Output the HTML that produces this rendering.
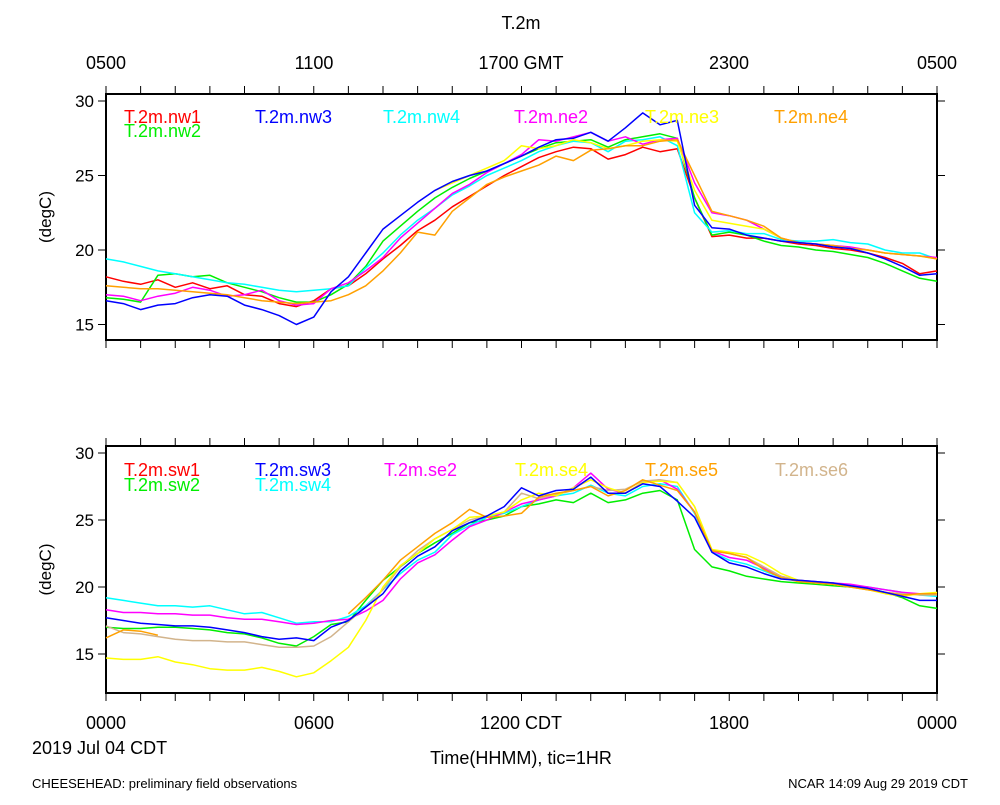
<!DOCTYPE html>
<html><head><meta charset="utf-8"><style>
body{margin:0;background:#fff}
svg text{font-family:"Liberation Sans",sans-serif;fill:#000}
</style></head><body>
<svg id="chart" width="1000" height="800" viewBox="0 0 1000 800" xmlns="http://www.w3.org/2000/svg">
<rect width="1000" height="800" fill="#fff"/>
<text x="521" y="29" font-size="18" text-anchor="middle">T.2m</text>
<text x="106" y="69" font-size="18" text-anchor="middle">0500</text>
<text x="314" y="69" font-size="18" text-anchor="middle">1100</text>
<text x="521" y="69" font-size="18" text-anchor="middle">1700 GMT</text>
<text x="729" y="69" font-size="18" text-anchor="middle">2300</text>
<text x="937" y="69" font-size="18" text-anchor="middle">0500</text>
<text x="106" y="729" font-size="18" text-anchor="middle">0000</text>
<text x="314" y="729" font-size="18" text-anchor="middle">0600</text>
<text x="521" y="729" font-size="18" text-anchor="middle">1200 CDT</text>
<text x="729" y="729" font-size="18" text-anchor="middle">1800</text>
<text x="937" y="729" font-size="18" text-anchor="middle">0000</text>
<text x="32" y="754" font-size="18">2019 Jul 04 CDT</text>
<text x="521" y="764" font-size="18" text-anchor="middle">Time(HHMM), tic=1HR</text>
<text x="32" y="788" font-size="13">CHEESEHEAD: preliminary field observations</text>
<text x="968" y="788" font-size="13" text-anchor="end">NCAR 14:09 Aug 29 2019 CDT</text>
</svg>
<script>
const hours=[0,.5,1,1.5,2,2.5,3,3.5,4,4.5,5,5.5,6,6.5,7,7.5,8,8.5,9,9.5,10,10.5,11,11.5,12,12.5,13,13.5,14,14.5,15,15.5,16,16.5,17,17.5,18,18.5,19,19.5,20,20.5,21,21.5,22,22.5,23,23.5,24];
const yTicks=[15,20,25,30];
const nw1=[18.2,17.9,17.7,18.0,17.5,17.8,17.4,17.6,17.0,16.9,16.4,16.2,16.6,17.4,17.6,18.4,19.4,20.3,21.3,22.0,22.9,23.6,24.3,25.0,25.6,26.2,26.6,26.9,26.8,26.1,26.4,26.9,26.6,26.8,23.5,20.9,21.0,20.8,20.8,20.6,20.4,20.3,20.1,20.0,19.8,19.5,19.1,18.4,18.6];
const nw2=[16.8,16.7,16.5,18.3,18.4,18.2,18.3,17.8,17.5,17.2,16.8,16.5,16.5,17.0,17.7,18.9,20.6,21.6,22.6,23.5,24.2,24.8,25.3,25.8,26.3,26.8,27.2,27.3,27.4,26.9,27.4,27.6,27.8,27.5,23.5,21.0,21.2,21.0,20.6,20.3,20.2,20.0,19.9,19.7,19.5,19.1,18.6,18.1,17.9];
const nw3=[16.6,16.4,16.0,16.3,16.4,16.8,17.0,16.9,16.3,16.0,15.6,15.0,15.5,17.2,18.2,19.8,21.4,22.3,23.2,24.0,24.6,25.0,25.3,25.8,26.3,26.9,27.4,27.5,27.9,27.3,28.2,29.2,28.4,28.7,23.0,21.5,21.4,21.0,20.8,20.6,20.5,20.4,20.2,20.1,19.8,19.4,18.9,18.3,18.4];
const nw4=[19.4,19.2,18.9,18.6,18.4,18.2,18.0,17.8,17.7,17.5,17.3,17.2,17.3,17.4,17.6,18.8,19.8,21.0,22.0,22.8,23.7,24.3,25.0,25.5,26.0,26.6,27.0,27.3,27.2,26.6,27.3,27.4,27.6,27.0,22.5,21.2,21.3,21.1,21.1,20.7,20.6,20.6,20.7,20.5,20.4,20.0,19.8,19.8,19.4];
const ne2=[17.0,16.9,16.6,16.9,17.1,17.5,17.3,16.9,17.0,17.3,16.6,16.3,16.4,17.4,17.8,18.6,19.5,20.8,21.8,22.8,23.8,24.4,25.2,25.8,26.4,27.4,27.3,27.6,27.9,27.3,27.6,27.1,27.4,27.5,24.5,22.5,22.3,22.0,21.4,20.8,20.5,20.4,20.3,20.2,20.0,19.8,19.7,19.6,19.5];
const ne3=[null,null,null,null,null,null,null,null,null,null,null,null,null,null,null,null,null,null,null,24.0,24.5,25.0,25.5,26.0,27.0,26.8,27.0,27.4,27.2,26.8,27.0,27.3,27.4,27.3,24.0,22.0,21.8,21.6,21.4,20.8,20.5,20.4,20.3,20.1,20.0,19.8,19.7,19.6,19.4];
const ne4=[17.6,17.5,17.4,17.4,17.3,17.2,17.1,17.0,16.8,16.6,16.5,16.4,16.5,16.6,17.0,17.6,18.6,19.8,21.2,21.0,22.6,23.5,24.4,24.9,25.3,25.7,26.3,26.0,26.7,26.8,27.0,27.0,27.3,27.4,25.0,22.6,22.3,22.0,21.6,20.8,20.5,20.4,20.3,20.1,20.0,19.8,19.7,19.6,19.4];
const sw2=[17.0,16.9,16.9,17.0,17.0,16.9,16.8,16.6,16.5,16.2,15.8,15.6,16.3,17.2,17.4,19.0,20.5,21.5,22.5,23.3,24.0,24.8,25.0,25.3,26.0,26.2,26.5,26.3,27.0,26.3,26.5,27.0,27.2,26.5,22.8,21.5,21.2,20.8,20.6,20.4,20.3,20.2,20.1,20.0,19.9,19.6,19.2,18.6,18.4];
const sw3=[17.7,17.5,17.3,17.2,17.1,17.1,17.0,16.8,16.6,16.3,16.1,16.2,16.0,17.0,17.5,18.5,19.5,21.2,22.3,23.0,24.2,24.8,25.3,26.0,27.4,26.8,27.2,27.3,28.2,27.0,27.0,27.7,27.5,26.4,25.2,22.6,21.8,21.5,21.0,20.6,20.5,20.4,20.3,20.1,19.9,19.6,19.3,19.0,19.0];
const sw4=[19.2,19.0,18.8,18.6,18.6,18.5,18.6,18.3,18.0,18.1,17.7,17.3,17.4,17.4,17.8,18.6,19.8,21.0,22.0,22.6,23.9,24.6,25.2,25.5,26.0,26.5,26.8,27.0,27.6,27.0,26.8,27.5,27.7,27.5,25.5,22.6,22.0,21.7,21.2,20.7,20.5,20.4,20.3,20.1,20.0,19.8,19.6,19.4,19.3];
const se2=[18.3,18.1,18.1,18.0,18.0,17.9,17.9,17.7,17.6,17.6,17.4,17.2,17.3,17.5,17.6,18.2,19.0,20.6,21.8,22.4,23.5,24.5,25.0,25.6,26.2,26.5,26.8,27.4,28.5,27.3,27.0,27.8,28.0,27.3,25.6,22.7,22.2,22.0,21.4,20.8,20.5,20.4,20.3,20.2,20.0,19.8,19.6,19.5,19.4];
const se4=[14.7,14.6,14.6,14.8,14.4,14.2,13.9,13.8,13.8,14.0,13.7,13.3,13.6,14.5,15.5,17.5,20.0,21.6,22.5,23.6,24.3,25.2,25.3,25.6,26.5,27.0,26.8,27.4,28.0,27.4,27.0,27.8,27.9,27.8,26.0,22.8,22.6,22.4,21.8,21.0,20.5,20.3,20.2,20.0,19.8,19.5,19.3,19.5,19.6];
const se5=[16.2,16.8,16.7,16.4,null,null,null,null,null,null,null,null,null,null,18.0,19.2,20.5,22.0,23.0,24.0,24.8,25.8,25.2,25.3,25.5,26.7,27.0,27.2,27.5,26.8,27.2,28.0,27.6,27.2,25.6,22.7,22.5,22.2,21.3,20.7,20.4,20.3,20.2,20.0,19.8,19.6,19.4,19.5,19.5];
const se6=[17.1,16.6,16.5,16.3,16.1,16.0,16.0,15.9,15.9,15.7,15.5,15.5,15.6,16.3,17.4,18.5,19.8,21.5,22.7,23.6,24.3,25.0,25.3,25.6,27.0,26.6,26.9,27.2,27.5,27.2,27.3,27.9,28.0,27.8,26.0,22.7,22.5,22.2,21.5,20.8,20.5,20.3,20.2,20.0,19.8,19.6,19.5,19.4,19.4];

const NS='http://www.w3.org/2000/svg';
const svg=document.getElementById('chart');
const X0=106,X1=937;
function xs(h){return X0+(X1-X0)*h/24;}
function mk(tag,attrs){const e=document.createElementNS(NS,tag);for(const k in attrs)e.setAttribute(k,attrs[k]);svg.appendChild(e);return e;}

function panel(name,top,bot,yTop30,yPer,series,legend){
  const ys=v=>yTop30+(30-v)*yPer;
  const frame=mk('rect',{x:X0,y:top,width:X1-X0,height:bot-top,fill:'none',stroke:'#000','stroke-width':2});
  
  
  for(let h=0;h<=24;h++){
    const x=xs(h);
    const t1=mk('line',{x1:x,y1:top-8,x2:x,y2:top,stroke:'#000','stroke-width':1});
    
    
    const t2=mk('line',{x1:x,y1:bot,x2:x,y2:bot+8,stroke:'#000','stroke-width':1});
    
    
  }
  yTicks.forEach(v=>{
    const y=ys(v);
    const a=mk('line',{x1:X0-8,y1:y,x2:X0,y2:y,stroke:'#000','stroke-width':1});
    
    
    const b=mk('line',{x1:X1,y1:y,x2:X1+8,y2:y,stroke:'#000','stroke-width':1});
    
    
    const l=mk('text',{x:X0-12,y:y+6,'font-size':17,'text-anchor':'end'});
    l.textContent=v;
    
    
  });
  const cy=(top+bot)/2;
  const yt=mk('text',{x:51,y:cy,'font-size':17,'text-anchor':'middle',transform:'rotate(-90 51 '+cy+')'});
  yt.textContent='(degC)';
  
  
  series.forEach(s=>{
    let d='',pen=false;
    s.data.forEach((v,i)=>{
      if(v===null){pen=false;return;}
      d+=(pen?'L':'M')+xs(hours[i]).toFixed(1)+','+ys(v).toFixed(1);pen=true;
    });
    if(!d)return;
    const p=mk('path',{d:d,fill:'none',stroke:s.color,'stroke-width':1.5,'stroke-linejoin':'round'});
    
    
  });
  legend.forEach(g=>{
    const t=mk('text',{x:g.x,y:g.y,'font-size':18,fill:g.color});
    t.style.fill=g.color;
    t.textContent=g.label;
    
    
  });
}
panel('top-panel',94,340,101,14.9,[
 {name:'nw1',color:'#ff0000',data:nw1},{name:'nw2',color:'#00ee00',data:nw2},{name:'nw4',color:'#00ffff',data:nw4},
 {name:'ne2',color:'#ff00ff',data:ne2},{name:'ne3',color:'#ffff00',data:ne3},{name:'ne4',color:'#ffa000',data:ne4},
 {name:'nw3',color:'#0000ff',data:nw3}
],[
 {label:'T.2m.nw1',x:124,y:123,color:'#ff0000'},{label:'T.2m.nw2',x:124,y:137,color:'#00ee00'},
 {label:'T.2m.nw3',x:255,y:123,color:'#0000ff'},{label:'T.2m.nw4',x:383,y:123,color:'#00ffff'},
 {label:'T.2m.ne2',x:514,y:123,color:'#ff00ff'},{label:'T.2m.ne3',x:645,y:123,color:'#ffff00'},
 {label:'T.2m.ne4',x:774,y:123,color:'#ffa000'}
]);
panel('bottom-panel',446,693,453,13.4,[
 {name:'sw2',color:'#00ee00',data:sw2},{name:'sw4',color:'#00ffff',data:sw4},{name:'se2',color:'#ff00ff',data:se2},
 {name:'se6',color:'#d2b48c',data:se6},{name:'se4',color:'#ffff00',data:se4},{name:'se5',color:'#ffa000',data:se5},
 {name:'sw3',color:'#0000ff',data:sw3}
],[
 {label:'T.2m.sw1',x:124,y:476,color:'#ff0000'},{label:'T.2m.sw2',x:124,y:491,color:'#00ee00'},
 {label:'T.2m.sw3',x:255,y:476,color:'#0000ff'},{label:'T.2m.sw4',x:255,y:491,color:'#00ffff'},
 {label:'T.2m.se2',x:384,y:476,color:'#ff00ff'},{label:'T.2m.se4',x:515,y:476,color:'#ffff00'},
 {label:'T.2m.se5',x:645,y:476,color:'#ffa000'},{label:'T.2m.se6',x:775,y:476,color:'#d2b48c'}
]);
</script>
</body></html>
